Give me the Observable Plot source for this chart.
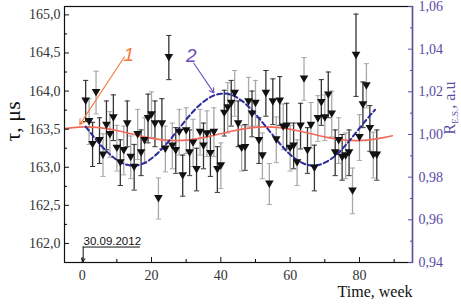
<!DOCTYPE html>
<html><head><meta charset="utf-8">
<script src="https://cdn.jsdelivr.net/npm/d3@7"></script>
<script src="https://cdn.jsdelivr.net/npm/@observablehq/plot@0.6"></script>
<style>body{margin:0;background:#fff}</style>
</head><body><div id="chart"></div>
<script>
const weeks = [1,2,3,4,5,6,7,8,9,10,11,12,13,14,15,16,17,18,19,20,21,22,23,24,25,26,27,28,29,30,31,32,33,34,35,36,37,38,39,40,41,42,43,44,45,46,47,48,49,50,51,52,53,54,55,56,57,58,59,60,61,62,63,64,65,66,67,68,69,70,71,72,73,74,75,76,77,78,79,80,81,82,83,84,85];
const tau = [163.87,163.60,163.30,163.98,163.35,163.16,163.55,163.43,163.65,163.25,
 163.06,163.22,163.57,163.13,163.00,163.43,163.19,163.35,163.64,163.69,
 163.57,162.59,163.57,163.24,164.44,163.28,163.22,163.46,162.89,163.48,
 163.19,163.32,162.97,163.46,163.28,163.44,163.18,163.46,162.97,163.02,
 163.71,163.78,163.84,163.97,163.57,163.25,163.26,163.86,163.70,163.84,
 163.35,163.15,163.97,162.78,163.86,163.36,163.87,163.53,163.54,163.25,
 163.28,163.06,163.54,164.16,163.22,163.55,162.99,163.64,163.85,163.65,
 163.95,163.70,163.19,163.35,163.13,163.15,163.19,162.69,164.47,163.39,
 163.82,164.07,163.51,163.16,163.16];
const tauErr = [0.27,0.30,0.29,0.28,0.30,0.28,0.32,0.30,0.30,0.30,
 0.30,0.32,0.30,0.28,0.30,0.33,0.30,0.30,0.32,0.30,
 0.30,0.27,0.33,0.30,0.29,0.30,0.30,0.30,0.27,0.30,
 0.30,0.31,0.28,0.30,0.30,0.30,0.30,0.32,0.30,0.30,
 0.30,0.33,0.30,0.30,0.30,0.30,0.30,0.32,0.30,0.30,
 0.30,0.30,0.30,0.27,0.30,0.30,0.32,0.30,0.30,0.30,
 0.30,0.30,0.30,0.28,0.30,0.30,0.30,0.30,0.30,0.30,
 0.30,0.30,0.30,0.30,0.30,0.30,0.30,0.30,0.54,0.30,
 0.30,0.29,0.30,0.30,0.33];
// curve 1 (left axis, tau)
const fit1Weeks = [-5,-1,3,7,11,15,19,23,27,31,35,39,43,47,51,55,59,63,67,71,75,79,83,87,89.5];
const fit1 = [163.507,163.527,163.527,163.507,163.472,163.429,163.389,163.360,163.350,163.360,163.389,163.429,163.472,163.507,163.527,163.527,163.507,163.472,163.429,163.389,163.360,163.350,163.360,163.389,163.413];
// curve 2 (right axis, R E.S.)
const fit2Weeks = [1,4,7,10,13,16,19,22,25,28,31,34,37,40,43,46,49,52,55,58,61,64,67,70,73,76,79,82,84.5];
const fit2 = [1.0037,0.9976,0.9922,0.9881,0.9858,0.9856,0.9876,0.9916,0.9969,1.0029,1.0089,1.0140,1.0175,1.0191,1.0186,1.0159,1.0114,1.0057,0.9997,0.9939,0.9892,0.9863,0.9854,0.9868,0.9900,0.9950,1.0009,1.0069,1.0116];

const xTicks = [0,20,40,60,80];
const xMinor = [10,30,50,70,90];
const yTicks = [162.0,162.5,163.0,163.5,164.0,164.5,165.0];
const yMinor = [162.25,162.75,163.25,163.75,164.25,164.75];
const rTicks = [0.94,0.96,0.98,1.00,1.02,1.04,1.06];
const rMinor = [0.95,0.97,0.99,1.01,1.03,1.05];

const X0 = -5.1, X1 = 95.3;
const Y0 = 161.75, Y1 = 165.11, R0 = 0.94, R1 = 1.06;
const toLeft = r => Y0 + (r - R0) / (R1 - R0) * (Y1 - Y0);
const toRight = y => R0 + (y - Y0) / (Y1 - Y0) * (R1 - R0);

const serif = "Liberation Serif";
const sans = "Liberation Sans";
const purple = "#5b4ca6";
const orange = "#f47a3c";
const red = "#f26a5a";
const blue = "#2b2b9a";
const tickText = "#333";

const pts = weeks.map((w, i) => ({w, v: tau[i], e: tauErr[i], i}));
const c1 = fit1Weeks.map((w, i) => ({w, v: fit1[i]}));
const c2 = fit2Weeks.map((w, i) => ({w, v: toLeft(fit2[i])}));

const triDown = {draw(ctx) { ctx.moveTo(-4.3, -3.5); ctx.lineTo(4.3, -3.5); ctx.lineTo(0, 3.9); ctx.closePath(); }};
const cap = {draw(ctx) { ctx.moveTo(-2.6, 0); ctx.lineTo(2.6, 0); }};

const dark = pts.filter(d => d.i % 2 === 0);
const light = pts.filter(d => d.i % 2 === 1);

function bars(data, color) {
  return [
    Plot.ruleX(data, {x: "w", y1: d => d.v - d.e, y2: d => d.v + d.e, stroke: color, strokeWidth: 1.3}),
    Plot.dot(data, {x: "w", y: d => d.v - d.e, symbol: cap, stroke: color, fill: "none", strokeWidth: 1}),
    Plot.dot(data, {x: "w", y: d => d.v + d.e, symbol: cap, stroke: color, fill: "none", strokeWidth: 1})
  ];
}

const fmt1 = d => d.toFixed(1).replace(".", ",");
const fmt2 = d => toRight(d).toFixed(2).replace(".", ",");

const chart = Plot.plot({
  width: 461, height: 305,
  marginLeft: 64, marginRight: 49, marginTop: 6, marginBottom: 43,
  style: {fontFamily: serif, fontSize: "14px", background: "#fff"},
  x: {domain: [X0, X1]},
  y: {domain: [Y0, Y1]},
  marks: [
    ...bars(light, "#a8a8a8"),
    ...bars(dark, "#333"),
    Plot.line(c1, {x: "w", y: "v", stroke: red, strokeWidth: 1.6, curve: "natural"}),
    Plot.line(c2, {x: "w", y: "v", stroke: blue, strokeWidth: 2, strokeDasharray: "5,3", curve: "natural"}),
    Plot.dot(pts, {x: "w", y: "v", symbol: triDown, fill: "#111", stroke: "none"}),
    // annotations
    Plot.arrow([{x1: 12.2, y1: 164.45, x2: -0.7, y2: 163.56}], {x1: "x1", y1: "y1", x2: "x2", y2: "y2", stroke: orange, strokeWidth: 1.1, headLength: 8}),
    Plot.text([{x: 13.45, y: 164.48}], {x: "x", y: "y", text: () => "1", fill: orange, fontSize: 19, fontStyle: "italic", fontFamily: sans}),
    Plot.arrow([{x1: 32.2, y1: 164.365, x2: 38.0, y2: 163.976}], {x1: "x1", y1: "y1", x2: "x2", y2: "y2", stroke: "#6b4fbb", strokeWidth: 1.1, headLength: 7}),
    Plot.text([{x: 31.5, y: 164.466}], {x: "x", y: "y", text: () => "2", fill: "#6b4fbb", fontSize: 19, fontStyle: "italic", fontFamily: sans}),
    Plot.text([{x: 0.38, y: 162.034}], {x: "x", y: "y", text: () => "30.09.2012", textAnchor: "start", fill: "#111", fontSize: 11.5, fontFamily: sans}),
    Plot.ruleY([161.953], {x1: 0.29, x2: 16.8, stroke: "#111", strokeWidth: 1}),
    Plot.arrow([{x1: 0.29, y1: 161.953, x2: 0.29, y2: 161.762}], {x1: "x1", y1: "y1", x2: "x2", y2: "y2", stroke: "#111", strokeWidth: 1, headLength: 5}),
    // frame and axes
    Plot.frame({stroke: "#111", strokeWidth: 1.2}),
    Plot.ruleX([X1], {stroke: purple, strokeWidth: 1.4}),
    Plot.axisY(yTicks, {anchor: "left", tickSize: -5, tickPadding: 9, tickFormat: fmt1, label: null, fontFamily: serif, fontSize: 14, fill: tickText, stroke: "#111"}),
    Plot.axisY(yMinor, {anchor: "left", tickSize: -3, tickPadding: 9, tickFormat: () => "", label: null}),
    Plot.axisY(rTicks.map(toLeft), {anchor: "right", tickSize: -5, tickPadding: 11, tickFormat: fmt2, color: purple, label: null, fontFamily: serif, fontSize: 14}),
    Plot.axisY(rMinor.map(toLeft), {anchor: "right", tickSize: -3, tickPadding: 11, tickFormat: () => "", color: purple, label: null}),
    Plot.axisX(xTicks, {anchor: "bottom", tickSize: -5, tickPadding: 13, label: null, fontFamily: serif, fontSize: 14, fill: tickText, stroke: "#111"}),
    Plot.axisX(xMinor, {anchor: "bottom", tickSize: -3, tickPadding: 13, tickFormat: () => "", label: null}),
    Plot.text([0], {frameAnchor: "left", dx: -52, dy: 7, rotate: -90, text: () => "τ, μs", fontSize: 22, fill: "#111", fontFamily: serif}),
    Plot.text([0], {frameAnchor: "bottom-right", dy: 34, textAnchor: "end", text: () => "Time, week", fontSize: 16, fill: "#111", fontFamily: serif})
  ]
});
document.getElementById("chart").appendChild(chart);

// right-axis title with subscript
const svg = d3.select(chart.tagName.toLowerCase() === "svg" ? chart : chart.querySelector("svg"));
const t = svg.append("text")
  .attr("transform", "translate(455,108) rotate(-90)")
  .attr("text-anchor", "middle")
  .attr("fill", purple)
  .attr("font-family", serif)
  .attr("font-size", 16);
t.append("tspan").text("R");
t.append("tspan").attr("font-size", 9).attr("dy", 3).text("E.S.");
t.append("tspan").attr("dy", -3).text(", a.u");
</script>
</body></html>
